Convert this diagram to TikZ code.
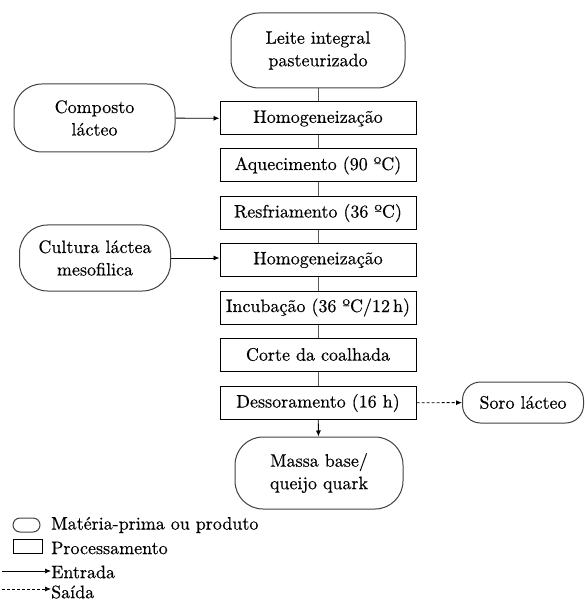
\documentclass[tikz,border=0pt]{standalone}
\usepackage{fontspec}
\setmainfont{lmroman10-regular.otf}[FakeBold=0.4]
\usetikzlibrary{arrows.meta}

\begin{document}
\begin{tikzpicture}[x=1pt, y=-1pt]
  \tikzstyle{rawnode}=[draw=black!75, line width=1pt, rounded corners=28pt, align=center, inner sep=0pt]
  \tikzstyle{procnode}=[draw=black, line width=1pt, minimum width=196pt, minimum height=33pt, inner sep=0pt]
  \tikzstyle{link}=[draw=black!65, line width=1pt]
  \tikzstyle{inarrow}=[draw=black, line width=0.9pt, -{Latex[length=6pt,width=5pt]}]
  \tikzstyle{outarrow}=[inarrow, dashed, dash pattern=on 3pt off 2pt]
  \fontsize{18}{22.5}\selectfont
  \useasboundingbox (0,0) rectangle (584,601);

  % Node definitions
  \node[rawnode, minimum width=174pt, minimum height=75pt] (milk) at (318,50.5) {Leite integral\\pasteurizado};
  \node[procnode] (homog1) at (318,118.5) {Homogeneização};
  \node[procnode] (heat) at (318,165.5) {Aquecimento (90 ºC)};
  \node[procnode] (cool) at (318,213) {Resfriamento (36 ºC)};
  \node[procnode] (homog2) at (318,260) {Homogeneização};
  \node[procnode] (incub) at (318,307.5) {Incubação (36 ºC/12\,h)};
  \node[procnode] (cut) at (318,354.5) {Corte da coalhada};
  \node[procnode] (drain) at (318,403) {Dessoramento (16 h)};
  \node[rawnode, minimum width=168pt, minimum height=72pt] (quark) at (319,473) {Massa base/\\queijo quark};

  \node[rawnode, minimum width=161pt, minimum height=68pt] (compound) at (94.5,118) {Composto\\lácteo};
  \node[rawnode, minimum width=151pt, minimum height=66pt] (culture) at (95,258) {Cultura láctea\\mesofilica};
  \node[rawnode, rounded corners=18pt, minimum width=121pt, minimum height=41pt] (whey) at (523,402.5) {Soro lácteo};

  % Edge definitions
  \draw[link] (milk) -- (homog1);
  \draw[link] (homog1) -- (heat);
  \draw[link] (heat) -- (cool);
  \draw[link] (cool) -- (homog2);
  \draw[link] (homog2) -- (incub);
  \draw[link] (incub) -- (cut);
  \draw[link] (cut) -- (drain);
  \draw[inarrow] (drain) -- (quark);
  \draw[inarrow] (compound) -- (homog1);
  \draw[inarrow] (culture.east) -- (culture.east -| homog1.west);
  \draw[outarrow] (drain) -- (whey);

  % Legend
  \node[draw=black!75, line width=1pt, rounded corners=7pt, minimum width=27pt, minimum height=14pt, inner sep=0pt] (keyraw) at (26.5,525) {};
  \node[draw=black, line width=1pt, minimum width=29pt, minimum height=14pt, inner sep=0pt] (keyproc) at (27.5,546) {};
  \node[anchor=west, inner sep=0pt] (keyrawtext) at (51,525) {Matéria-prima ou produto};
  \node[anchor=west, inner sep=0pt] (keyproctext) at (51,548) {Processamento};
  \node[anchor=west, inner sep=0pt] (keyin) at (51,572) {Entrada};
  \node[anchor=west, inner sep=0pt] (keyout) at (51,592) {Saída};
  \coordinate (keyinstart) at (2,571);
  \coordinate (keyoutstart) at (2,589);
  \draw[inarrow, line width=0.7pt] (keyinstart) -- (keyinstart -| keyin.west);
  \draw[outarrow, line width=0.7pt] (keyoutstart) -- (keyoutstart -| keyout.west);
\end{tikzpicture}
\end{document}
